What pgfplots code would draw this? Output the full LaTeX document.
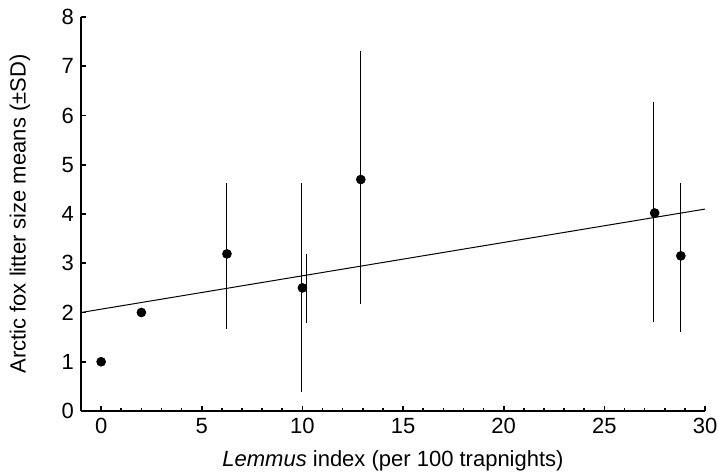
\documentclass[border=0pt]{standalone}
\usepackage{pgfplots}
\pgfplotsset{compat=1.18}
\usetikzlibrary{calc}
\usepackage{fontspec}
\setmainfont{Liberation Sans}

% litter size means
\pgfplotstableread{
x     y
0.0   1.00
2.0   2.00
6.25  3.19
10.0  2.50
12.9  4.70
27.5  4.02
28.8  3.15
}\means
% SD bars: x, centre, minus, plus
\pgfplotstableread{
x     c     em    ep
6.25  3.15  1.49  1.48
9.95  2.51  2.12  2.12
10.2  2.49  0.70  0.70
12.9  4.74  2.57  2.57
27.45 4.04  2.23  2.23
28.8  3.12  1.52  1.51
}\sdbars

\begin{document}
\begin{tikzpicture}
\begin{axis}[
  scale only axis, width=312pt, height=197pt,
  xmin=-1, xmax=30, ymin=0, ymax=8,
  axis x line=bottom, axis y line=left,
  axis line style={-, line width=1pt},
  tick align=inside, major tick length=2.5pt, minor tick length=1.5pt,
  tick style={black, line width=0.8pt},
  xtick={0,5,...,30}, ytick={0,...,8}, minor x tick num=4,
  font=\fontsize{11}{13}\selectfont,
  /pgf/number format/assume math mode=true,
  xlabel={\textit{Lemmus} index (per 100 trapnights)},
  ylabel={Arctic fox litter size means (±SD)},
  xlabel style={at={(axis description cs:0.5,0)}, anchor=center, yshift=-25pt},
  ylabel style={at={(axis description cs:0,0.5)}, anchor=center, yshift=30.5pt},
  clip=false]
\coordinate (bl) at (rel axis cs:0,0);
\coordinate (tr) at (rel axis cs:1,1);
\addplot[black, line width=0.5pt] coordinates {(-1,2.00) (30,4.10)};
\addplot[only marks, mark=*, mark options={draw opacity=0, fill opacity=0}, black,
  error bars/.cd, y dir=both, y explicit, error mark=none,
  error bar style={line width=0.55pt, opacity=1}]
  table[x=x, y=c, y error minus=em, y error plus=ep] {\sdbars};
\addplot[only marks, mark=*, mark size=2.2pt, black] table[x=x, y=y] {\means};
\end{axis}
\pgfresetboundingbox
\path[use as bounding box] ($(bl)+(-40.5pt,-30pt)$) rectangle ($(tr)+(7pt,8.5pt)$);
\end{tikzpicture}
\end{document}
